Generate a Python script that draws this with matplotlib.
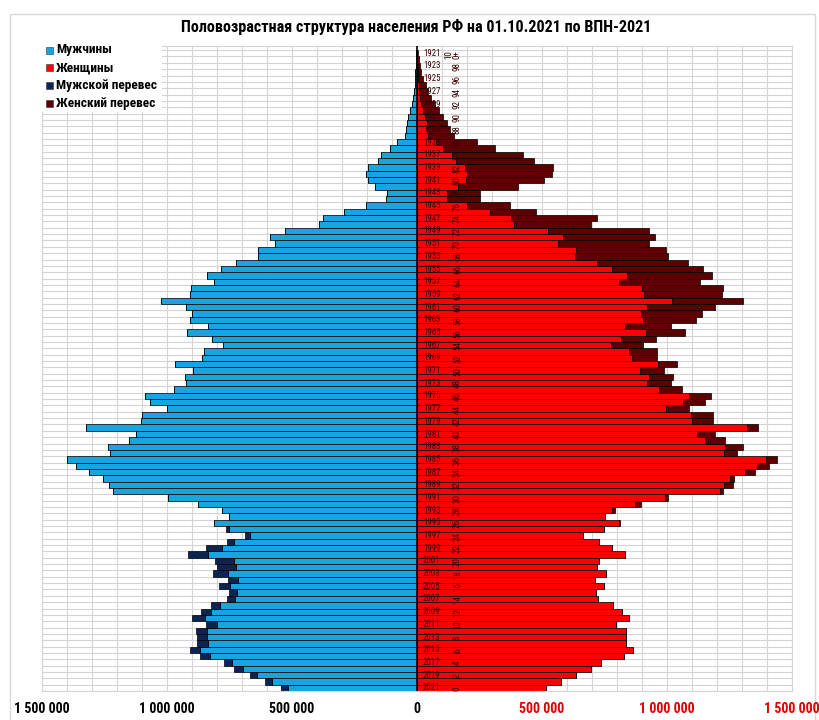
import numpy as np
import matplotlib
matplotlib.use("Agg")
import matplotlib.pyplot as plt
from matplotlib import font_manager
from matplotlib.patches import Rectangle

# ---------------- data (thousands of people) ----------------
years = list(range(1921, 2022))
males = [
    2, 3, 4, 5, 7, 8, 9, 13, 19, 25,                      # 1921-1930
    33, 40, 43, 45, 77, 106, 143, 156, 193, 203,          # 1931-1940
    196, 166, 120, 123, 202, 292, 376, 390, 526, 587,     # 1941-1950
    565, 636, 635, 721, 783, 840, 811, 902, 908, 1023,    # 1951-1960
    922, 897, 906, 834, 918, 819, 776, 850, 860, 965,     # 1961-1970
    893, 928, 922, 969, 1088, 1066, 998, 1097, 1101, 1323,  # 1971-1980
    1121, 1152, 1234, 1228, 1397, 1362, 1312, 1253, 1230, 1214,  # 1981-1990
    994, 873, 780, 752, 811, 764, 688, 760, 844, 916,     # 1991-2000
    807, 799, 815, 756, 791, 752, 760, 824, 863, 897,     # 2001-2010
    842, 881, 879, 879, 908, 865, 772, 729, 667, 608,     # 2011-2020
    542,                                                  # 2021
]
females = [
    5, 8, 13, 19, 24, 37, 45, 57, 75, 91,                 # 1921-1930
    107, 120, 133, 151, 242, 315, 424, 471, 547, 541,     # 1931-1940
    511, 407, 253, 252, 375, 476, 721, 696, 930, 955,     # 1941-1950
    930, 998, 1004, 1086, 1144, 1181, 1134, 1226, 1222, 1306,  # 1951-1960
    1193, 1140, 1119, 1017, 1072, 959, 906, 963, 963, 1043,    # 1961-1970
    988, 1027, 1017, 1060, 1177, 1154, 1091, 1185, 1185, 1364,  # 1971-1980
    1193, 1232, 1306, 1281, 1442, 1411, 1353, 1271, 1267, 1226,  # 1981-1990
    1004, 897, 793, 755, 813, 750, 667, 729, 780, 834,    # 1991-2000
    731, 721, 756, 715, 748, 719, 725, 787, 822, 848,     # 2001-2010
    799, 838, 838, 836, 865, 828, 737, 696, 639, 579,     # 2011-2020
    516,                                                  # 2021
]
legend_labels = ["Мужчины", "Женщины", "Мужской перевес", "Женский перевес"]
title = "Половозрастная структура населения РФ на 01.10.2021 по ВПН-2021"
xtick_vals = [-1500000, -1000000, -500000, 0, 500000, 1000000, 1500000]
xtick_labels = ["1 500 000", "1 000 000", "500 000", "0", "500 000", "1 000 000", "1 500 000"]

# ---------------- fonts ----------------
avail = {f.name for f in font_manager.fontManager.ttflist}
narrow = None
for cand in ["Liberation Sans Narrow", "DejaVu Sans Condensed", "Roboto Condensed", "Liberation Sans"]:
    if cand in avail:
        narrow = cand
        break
fam = [narrow, "DejaVu Sans"] if narrow else ["DejaVu Sans"]
plt.rcParams["font.family"] = fam

C_BLUE = "#18a4df"
C_RED = "#fe0000"
C_NAVY = "#0c2452"
C_MAROON = "#5e0000"
GRID = "#d4d4d4"
LBL = "#3a0000"

m = np.array(males, dtype=float) * 1000
f = np.array(females, dtype=float) * 1000
common = np.minimum(m, f)
m_ex = np.clip(m - f, 0, None)
f_ex = np.clip(f - m, 0, None)
y = np.arange(len(years))

W, H = 820, 720
fig = plt.figure(figsize=(W / 100, H / 100), dpi=100)
ax = fig.add_axes([41.5 / W, 29 / H, 750 / W, (674 - 29) / H])

ax.set_xlim(-1500000, 1500000)
ax.set_ylim(100.45, -1.15)

# grid
ax.set_xticks(np.arange(-1500000, 1500001, 100000), minor=True)
ax.set_yticks(np.arange(-0.5, 101, 1.0), minor=True)
ax.set_yticks([])
ax.grid(which="minor", axis="both", color=GRID, linewidth=0.8)
ax.grid(which="major", axis="x", color=GRID, linewidth=0.8)
ax.set_axisbelow(True)
ax.tick_params(which="both", length=0)
for s in ax.spines.values():
    s.set_color(GRID)
    s.set_linewidth(0.8)

bk = dict(height=1.0, edgecolor="black", linewidth=0.5)
ax.barh(y, -common, color=C_BLUE, **bk)
ax.barh(y, -m_ex, left=-common, color=C_NAVY, **bk)
ax.barh(y, common, color=C_RED, **bk)
ax.barh(y, f_ex, left=common, color=C_MAROON, **bk)
ax.axvline(0, color="black", linewidth=1.2, zorder=5)

# x tick labels
ax.set_xticks(xtick_vals)
ax.set_xticklabels(xtick_labels, fontsize=10, fontweight="bold")
for i, t in enumerate(ax.get_xticklabels()):
    t.set_color("black" if xtick_vals[i] <= 0 else "#e00000")
ax.tick_params(axis="x", pad=8)

# center labels: birth year and age
for i, yr in enumerate(years):
    if (yr - 1921) % 2:
        continue
    ax.text(26000, i, str(yr), fontsize=6.3, color=LBL, ha="left", va="center", zorder=6)
    age = 2021 - yr
    if age == 100:
        ax.text(146000, i + 0.2, "10\n0+", fontsize=6.5, color=LBL, rotation=90,
                ha="center", va="center", linespacing=0.9, zorder=6)
    else:
        ax.text(164000, i + 0.1, str(age), fontsize=6.5, color=LBL, rotation=90,
                ha="center", va="center", zorder=6)

# title
fig.text(416.5 / W, 1 - 27 / H, title, ha="center", va="center", fontsize=11.6, fontweight="bold")

# legend (manual)
fig.add_artist(Rectangle((40 / W, 1 - 112 / H), 122 / W, 68 / H, transform=fig.transFigure,
                         facecolor="white", edgecolor="none", zorder=3))
leg_colors = [C_BLUE, C_RED, C_NAVY, C_MAROON]
for k, (lab, col) in enumerate(zip(legend_labels, leg_colors)):
    yc = 50 + 17.7 * k
    fig.add_artist(Rectangle((46 / W, 1 - (yc + 3.5) / H), 7 / W, 7 / H, transform=fig.transFigure,
                             facecolor=col, edgecolor="#333333", linewidth=0.4, zorder=4))
    fig.text(56 / W, 1 - yc / H, lab, ha="left", va="center", fontsize=9.6,
             fontweight="bold", zorder=5)

# outer light frame
fig.add_artist(Rectangle((10 / W, -0.02), 805 / W, 1.02 - 14 / H, transform=fig.transFigure,
                         facecolor="none", edgecolor="#d8d8d8", linewidth=1.0, zorder=0))

fig.savefig("out.png", dpi=100, facecolor="white")
